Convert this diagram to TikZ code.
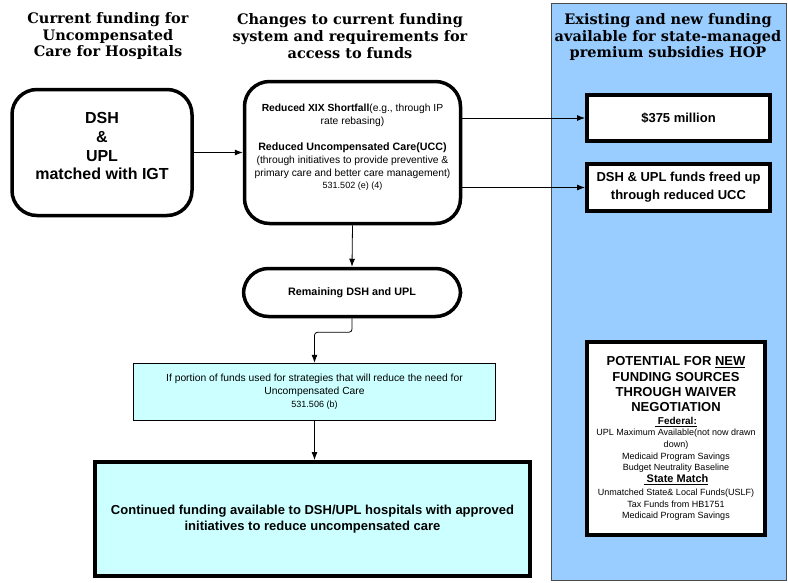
\documentclass[tikz,border=0pt]{standalone}
\usepackage{fontspec}
\setmainfont{Liberation Sans}
\newfontfamily\headfont{DejaVu Serif}
\usetikzlibrary{arrows.meta}
\definecolor{panelblue}{HTML}{99CCFF}
\definecolor{lightcyan}{HTML}{CCFFFF}

\begin{document}
\begin{tikzpicture}[x=1pt, y=-1pt, >={Latex[length=8pt,width=6pt]},
    headtext/.style={font=\headfont\bfseries\fontsize{14.5}{16.7}\selectfont, align=center},
    roundbox/.style={draw, line width=3.5pt, rounded corners=25pt, fill=white, align=center},
    whitebox/.style={draw, line width=4pt, fill=white, align=center, inner sep=2pt},
    cyanbox/.style={draw, line width=1.5pt, fill=lightcyan, align=center},
    link/.style={->, line width=0.8pt}]
            \useasboundingbox (0,0) rectangle (788,582);
            % right hand panel
            \fill[panelblue] (551,3) rectangle (786,580);
            \draw[black!70, line width=0.8pt] (551,3) rectangle (786,580);

            % column headers
            \node[headtext] (headcur) at (108,36) {Current funding for\\Uncompensated\\Care for Hospitals};
            \node[headtext] (headchg) at (350,36) {Changes to current funding\\system and requirements for\\access to funds};
            \node[headtext] (headnew) at (668,37) {Existing and new funding\\available for state-managed\\premium subsidies HOP};

            % boxes
            \node[roundbox, minimum width=180, minimum height=126,
                  font=\bfseries\fontsize{16}{18.6}\selectfont] (dsh) at (102,152.5)
                {DSH\\\&\\UPL\\matched with IGT\\[-6pt]};
            \node[roundbox, minimum width=216, minimum height=142,
                  font=\fontsize{10.3}{12.8}\selectfont] (change) at (352.5,152.5)
                {\textbf{Reduced XIX Shortfall}(e.g., through IP\\rate rebasing)\\[13pt]
                 \bfseries\fontsize{10.7}{12.8}\selectfont Reduced Uncompensated Care(UCC)\\
                 (through initiatives to provide preventive \&\\
                 primary care and better care management)\\
                 \fontsize{9}{12}\selectfont 531.502 (e) (4)\\[-1pt]};
            \node[roundbox, minimum width=217, minimum height=48,
                  font=\bfseries\fontsize{10.8}{12}\selectfont] (remain) at (352,292.5)
                {Remaining DSH and UPL};
            \node[cyanbox, minimum width=362, minimum height=57,
                  font=\fontsize{10.3}{13}\selectfont] (cyan) at (314.5,392)
                {If portion of funds used for strategies that will reduce the need for\\
                 Uncompensated Care\\\fontsize{9}{13}\selectfont 531.506 (b)};
            \node[whitebox, fill=lightcyan, minimum width=435, minimum height=114,
                  font=\bfseries\fontsize{13}{16}\selectfont] (cont) at (312.5,519)
                {Continued funding available to DSH/UPL hospitals with approved\\
                 initiatives to reduce uncompensated care};
            \node[whitebox, minimum width=183, minimum height=46,
                  font=\bfseries\fontsize{13}{15}\selectfont] (money) at (678.5,118)
                {\$375 million};
            \node[whitebox, minimum width=183, minimum height=47,
                  font=\bfseries\fontsize{13}{18}\selectfont] (freed) at (678.5,187.5)
                {DSH \& UPL funds freed up\\through reduced UCC};
            \node[whitebox, minimum width=178, minimum height=193,
                  font=\fontsize{9}{11}\selectfont] (potential) at (676,438.5)
                {\bfseries\fontsize{13}{15.7}\selectfont POTENTIAL FOR \underline{NEW}\\[4pt]
                 \bfseries\fontsize{13}{15.7}\selectfont FUNDING SOURCES\\[4pt]
                 \bfseries\fontsize{13}{15.7}\selectfont THROUGH WAIVER\\[4pt]
                 \bfseries\fontsize{13}{15.7}\selectfont NEGOTIATION\\[2pt]
                 \bfseries\fontsize{10}{14}\selectfont\underline{\ Federal:}\\
                 UPL Maximum Available(not now drawn\\[1pt]down)\\[1pt]
                 Medicaid Program Savings\\Budget Neutrality Baseline\\[1pt]
                 \bfseries\fontsize{11}{12}\selectfont\underline{\ State Match}\\[2pt]
                 Unmatched State\& Local Funds(USLF)\\[1pt]
                 Tax Funds from HB1751\\Medicaid Program Savings};

            % connectors
            \draw[link] (dsh.east) -- (change.west);
            \draw[link] (change.east |- money.west) -- (money.west);
            \draw[link] (change.east |- freed.west) -- (freed.west);
            \draw[link] (change.south) -- (remain.north);
            \draw[link, rounded corners=3pt] (remain.south) -- ++(0,14) -| (cyan.north);
            \draw[link] (cyan.south) -- (cyan.south |- cont.north);
        \end{tikzpicture}
\end{document}
